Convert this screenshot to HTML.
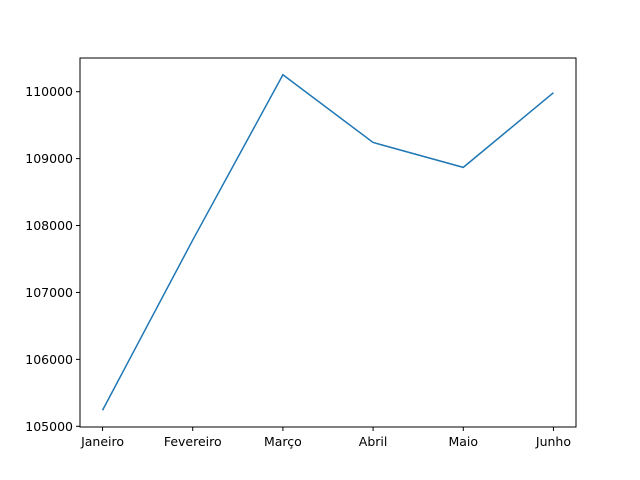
<!DOCTYPE html>
<html><head><meta charset="utf-8"><style>body{margin:0;background:#fff}svg{display:block;font-family:"DejaVu Sans","Liberation Sans",sans-serif}</style></head>
<body>
<svg id="chart" width="640" height="480">
<rect x="80" y="58" width="496" height="369" fill="#fff" stroke="#000" stroke-width="1"/>
</svg>
<script>
const categories = ["Janeiro","Fevereiro","Março","Abril","Maio","Junho"];
const values = [105240, 107783, 110253, 109241, 108869, 109985];
const yTicks = [105000, 106000, 107000, 108000, 109000, 110000];
const svg = document.getElementById('chart');
const NS = 'http://www.w3.org/2000/svg';
const L=80,R=576,T=58,B=427;
const vmin=Math.min(...values), vmax=Math.max(...values), pad=(vmax-vmin)*0.05;
const y0=vmin-pad, y1=vmax+pad;
const x=i=>{const n=categories.length-1;const lo=-0.05*n,hi=n+0.05*n;return L+(i-lo)/(hi-lo)*(R-L);};
const y=v=>B-(v-y0)/(y1-y0)*(B-T);
function mk(t,a){const e=document.createElementNS(NS,t);for(const k in a)e.setAttribute(k,a[k]);svg.appendChild(e);return e;}
categories.forEach((c,i)=>{
  const tk=mk('line',{x1:x(i),x2:x(i),y1:B,y2:B+4,stroke:'#000'});
  
  
  const t=mk('text',{x:x(i),y:B+19,'text-anchor':'middle','font-size':'12.5'});
  t.textContent=c;
  
  
});
yTicks.forEach(v=>{
  const tk=mk('line',{x1:L-4,x2:L,y1:y(v),y2:y(v),stroke:'#000'});
  
  
  const t=mk('text',{x:L-7,y:y(v)+4.5,'text-anchor':'end','font-size':'12.5'});
  t.textContent=v;
  
  
});
const p=mk('polyline',{points:values.map((v,i)=>x(i)+','+y(v)).join(' '),fill:'none',stroke:'#1f77b4','stroke-width':'1.5'});


</script>
</body></html>
